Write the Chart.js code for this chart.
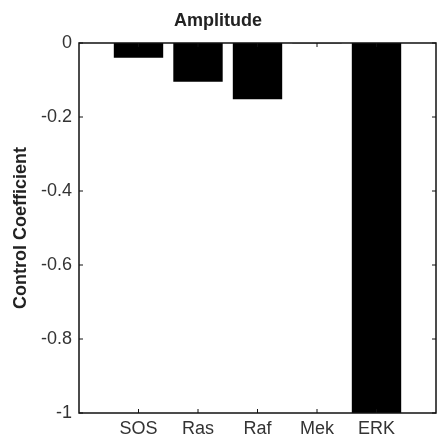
<!DOCTYPE html>
<html>
<head>
<meta charset="utf-8">
<script src="https://cdn.jsdelivr.net/npm/chart.js@4"></script>
<style>
  html, body { margin: 0; padding: 0; background: #fff; }
  #wrap { width: 440px; height: 439px; }
</style>
</head>
<body>
<div id="wrap"><canvas id="ampChart"></canvas></div>
<script>
// data
const proteins = ['SOS', 'Ras', 'Raf', 'Mek', 'ERK'];
const positions = [1, 2, 3, 4, 5];
const coefficients = [-0.04, -0.105, -0.152, -0.001, -1];
const yTicks = [0, -0.2, -0.4, -0.6, -0.8, -1];

const points = positions.map((p, i) => ({ x: p, y: coefficients[i] }));
const fontFamily = 'Liberation Sans, Arial, Helvetica, sans-serif';

// box round the plot with small inward tick marks
const frame = {
  id: 'frame',
  afterDraw(chart) {
    const { ctx, chartArea: a, scales } = chart;
    ctx.save();
    ctx.strokeStyle = '#111';
    ctx.lineWidth = 1.5;
    ctx.strokeRect(a.left, a.top, a.right - a.left, a.bottom - a.top);
    ctx.lineWidth = 1;
    yTicks.forEach(v => {
      const y = scales.y.getPixelForValue(v);
      ctx.beginPath();
      ctx.moveTo(a.left, y); ctx.lineTo(a.left + 4, y);
      ctx.moveTo(a.right, y); ctx.lineTo(a.right - 4, y);
      ctx.stroke();
    });
    positions.forEach(p => {
      const x = scales.x.getPixelForValue(p);
      ctx.beginPath();
      ctx.moveTo(x, a.bottom); ctx.lineTo(x, a.bottom - 4);
      ctx.moveTo(x, a.top); ctx.lineTo(x, a.top + 4);
      ctx.stroke();
    });
    ctx.restore();
  }
};

const ctx = document.getElementById('ampChart').getContext('2d');
new Chart(ctx, {
  type: 'bar',
  data: {
    datasets: [{
      data: points,
      backgroundColor: '#000',
      borderWidth: 0,
      barPercentage: 0.83,
      categoryPercentage: 1
    }]
  },
  options: {
    responsive: true,
    maintainAspectRatio: false,
    animation: false,
    layout: { padding: { left: 0, right: 4, top: 0, bottom: 0 } },
    plugins: {
      legend: { display: false },
      tooltip: { enabled: false },
      title: {
        display: true,
        text: 'Amplitude',
        color: '#222',
        font: { family: fontFamily, size: 18, weight: 'bold' },
        padding: { top: 10, bottom: 11.4 }
      }
    },
    scales: {
      x: {
        type: 'linear',
        min: 0,
        max: 6,
        offset: false,
        grid: { display: false, drawTicks: false },
        border: { display: false },
        afterBuildTicks: s => { s.ticks = positions.map(v => ({ value: v })); },
        afterFit: s => { s.height = 26; },
        ticks: {
          padding: 5,
          color: '#333',
          maxRotation: 0,
          autoSkip: false,
          font: { family: fontFamily, size: 18 },
          callback: v => proteins[positions.indexOf(v)] || ''
        }
      },
      y: {
        min: -1,
        max: 0,
        grid: { display: false, drawTicks: false },
        border: { display: false },
        afterBuildTicks: s => { s.ticks = yTicks.map(v => ({ value: v })); },
        afterFit: s => { s.width = 79; },
        title: {
          display: true,
          text: 'Control Coefficient',
          color: '#222',
          font: { family: fontFamily, size: 18, weight: 'bold' },
          padding: { top: 10, bottom: 0 }
        },
        ticks: {
          padding: 7,
          color: '#333',
          font: { family: fontFamily, size: 18 },
          callback: v => String(Number(v.toFixed(1)))
        }
      }
    }
  },
  plugins: [frame]
});
</script>
</body>
</html>
